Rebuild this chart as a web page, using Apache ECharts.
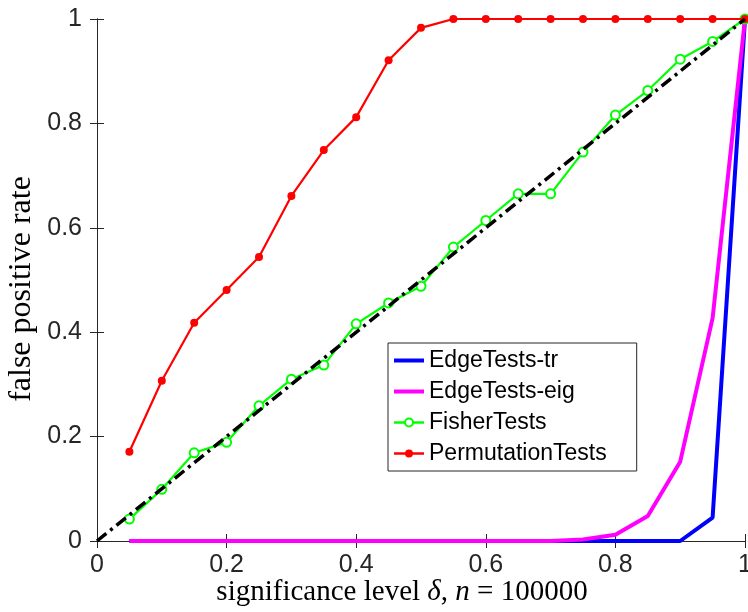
<!DOCTYPE html>
<html>
<head>
<meta charset="utf-8">
<script src="https://cdn.jsdelivr.net/npm/echarts@6/dist/echarts.min.js"></script>
<style>html,body{margin:0;padding:0;background:#fff;}#c{width:748px;height:612px;}</style>
</head>
<body>
<div id="c"></div>
<script>
const xs = [0.05,0.1,0.15,0.2,0.25,0.3,0.35,0.4,0.45,0.5,0.55,0.6,0.65,0.7,0.75,0.8,0.85,0.9,0.95,1.0];
const edgeTr = [0,0,0,0,0,0,0,0,0,0,0,0,0,0,0,0,0,0,0.045,1];
const edgeEig = [0,0,0,0,0,0,0,0,0,0,0,0,0,0,0.003,0.012,0.048,0.152,0.427,1];
const fisher = [0.042,0.099,0.169,0.189,0.259,0.310,0.337,0.416,0.456,0.488,0.563,0.614,0.665,0.665,0.745,0.816,0.863,0.923,0.957,1.0];
const perm = [0.171,0.307,0.418,0.481,0.544,0.661,0.749,0.812,0.921,0.983,1,1,1,1,1,1,1,1,1,1];
const diagX = [0,1];
const diagY = [0,1];

const pair = (a,b)=>a.map((v,i)=>[v,b[i]]);
const axisCol = '#262626';
const chart = echarts.init(document.getElementById('c'));
const baseAxis = {
  type:'value', min:0, max:1, interval:0.2,
  axisLine:{show:true, lineStyle:{color:axisCol, width:1}},
  axisTick:{show:true, inside:true, length:7, lineStyle:{color:axisCol}},
  splitLine:{show:false},
};
chart.setOption({
  animation:false,
  grid:{left:97, top:19, right:3, bottom:71, outerBoundsMode:'none', containLabel:false},
  xAxis:[
    Object.assign({}, baseAxis, {position:'bottom', axisLabel:{fontFamily:'Liberation Sans', fontSize:25, color:axisCol, margin:12}}),
    Object.assign({}, baseAxis, {position:'top', axisLabel:{show:false}})
  ],
  yAxis:[
    Object.assign({}, baseAxis, {position:'left', axisLabel:{fontFamily:'Liberation Sans', fontSize:25, color:axisCol, margin:15}}),
    Object.assign({}, baseAxis, {position:'right', axisLabel:{show:false}})
  ],
  legend:{
    orient:'vertical', left:388, top:343,
    data:[
      {name:'EdgeTests-tr', itemStyle:{opacity:0}, lineStyle:{width:4}},
      {name:'EdgeTests-eig', itemStyle:{opacity:0}, lineStyle:{width:4}},
      {name:'FisherTests', lineStyle:{width:2.5}},
      {name:'PermutationTests', lineStyle:{width:2.5}}
    ],
    backgroundColor:'#fff', borderColor:axisCol, borderWidth:1,
    padding:[6,30,6,4], itemGap:8, itemWidth:30, itemHeight:10,
    textStyle:{fontFamily:'Liberation Sans', fontSize:23, color:'#000'}
  },
  series:[
    {name:'EdgeTests-tr', type:'line', data:pair(xs,edgeTr), showSymbol:false, symbol:'none', lineStyle:{color:'#0000ff', width:4}, itemStyle:{color:'#0000ff'}, z:2},
    {name:'EdgeTests-eig', type:'line', data:pair(xs,edgeEig), showSymbol:false, symbol:'none', lineStyle:{color:'#ff00ff', width:4}, itemStyle:{color:'#ff00ff'}, z:3},
    {name:'FisherTests', type:'line', data:pair(xs,fisher), symbol:'emptyCircle', symbolSize:9, lineStyle:{color:'#00ff00', width:2.2}, itemStyle:{color:'#00ff00', borderWidth:2}, z:4},
    {name:'PermutationTests', type:'line', data:pair(xs,perm), symbol:'circle', symbolSize:8, lineStyle:{color:'#ff0000', width:2.2}, itemStyle:{color:'#ff0000'}, z:5},
    {name:'diag', type:'line', data:pair(diagX,diagY), symbol:'none', lineStyle:{color:'#000', width:3.5, type:[12,5,3,5]}, z:6}
  ],
  graphic:[
    {type:'text', id:'xl', x:402, y:592, style:{
      text:'{n|significance level }{i|δ}{n|, }{i|n}{n| = 100000}',
      align:'center', verticalAlign:'middle',
      rich:{n:{fontFamily:'Liberation Serif', fontSize:29, fill:'#000'}, i:{fontFamily:'Liberation Serif', fontStyle:'italic', fontSize:29, fill:'#000'}}
    }},
    {type:'text', id:'yl', x:22, y:289, rotation:Math.PI/2, style:{
      text:'false positive rate', align:'center', verticalAlign:'middle',
      fontFamily:'Liberation Serif', fontSize:32, fill:'#000'
    }}
  ]
});
</script>
</body>
</html>
